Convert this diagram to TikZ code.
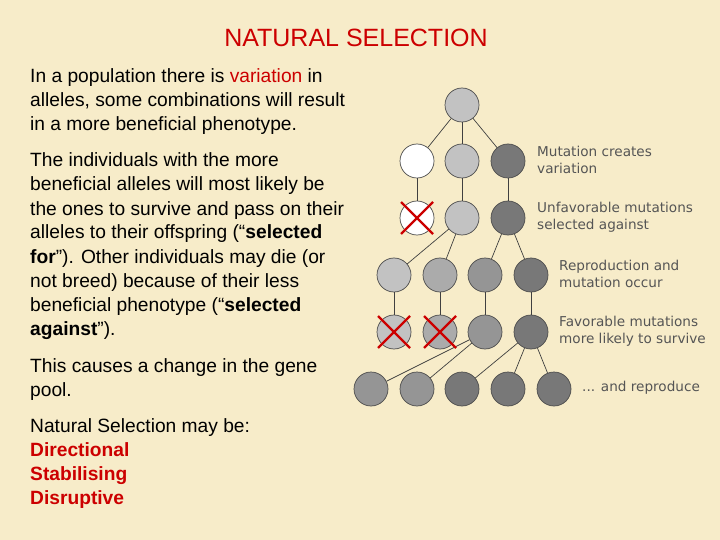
\documentclass[tikz,border=0pt]{standalone}
\usepackage{fontspec}
\usetikzlibrary{calc}
\setmainfont{Liberation Sans}
\newfontfamily\lblfont{DejaVu Sans}
\definecolor{bg}{HTML}{F7ECC9}
\definecolor{tred}{HTML}{CC0000}
\definecolor{cA}{HTML}{C2C2C2}
\definecolor{cB}{HTML}{ABABAB}
\definecolor{cC}{HTML}{959595}
\definecolor{cD}{HTML}{787878}
\definecolor{lbl}{HTML}{555555}
\begin{document}
\begin{tikzpicture}[x=1pt,y=-1pt,
  ind/.style={circle,draw=black!70,line width=0.7pt,minimum size=34pt,inner sep=0pt},
  tx/.style={anchor=base west,inner sep=0pt,font=\fontsize{19.2}{22}\selectfont},
  lb/.style={anchor=west,align=left,inner sep=0pt,text=lbl,font=\lblfont\fontsize{13.6}{17}\selectfont},
  ed/.style={draw=black!75,line width=0.7pt},
  cross/.style={draw=red!80!black,line width=2.2pt}]
\fill[bg] (0,0) rectangle (720,540);
\useasboundingbox (0,0) rectangle (720,540);
\node[anchor=base,inner sep=0pt,text=tred,font=\fontsize{25}{28}\selectfont] (title) at (356,47) {NATURAL SELECTION};
\node[tx] (l1) at (30,83) {In a population there is \textcolor{tred}{variation} in};
\node[tx] (l2) at (30,107) {alleles, some combinations will result};
\node[tx] (l3) at (30,131) {in a more beneficial phenotype.};
\node[tx] (l4) at (30,167) {The individuals with the more};
\node[tx] (l5) at (30,191) {beneficial alleles will most likely be};
\node[tx] (l6) at (30,215) {the ones to survive and pass on their};
\node[tx] (l7) at (30,239) {alleles to their offspring (“\textbf{selected}};
\node[tx] (l8) at (30,263) {\textbf{for}”). Other individuals may die (or};
\node[tx] (l9) at (30,287) {not breed) because of their less};
\node[tx] (l10) at (30,311) {beneficial phenotype (“\textbf{selected}};
\node[tx] (l11) at (30,335) {\textbf{against}”).};
\node[tx] (l12) at (30,372) {This causes a change in the gene};
\node[tx] (l13) at (30,396) {pool.};
\node[tx] (l14) at (30,432) {Natural Selection may be:};
\node[tx,text=tred] (l15) at (30,456) {\textbf{Directional}};
\node[tx,text=tred] (l16) at (30,480) {\textbf{Stabilising}};
\node[tx,text=tred] (l17) at (30,504) {\textbf{Disruptive}};
% tree
\node[ind,fill=cA] (r) at (462,105) {};
\node[ind,fill=white] (a1) at (417,161) {};
\node[ind,fill=cA] (a2) at (462,161) {};
\node[ind,fill=cD] (a3) at (508,161) {};
\node[ind,fill=white] (b1) at (417,218) {};
\node[ind,fill=cA] (b2) at (462,218) {};
\node[ind,fill=cD] (b3) at (508,218) {};
\node[ind,fill=cA] (c1) at (394,275) {};
\node[ind,fill=cB] (c2) at (440,275) {};
\node[ind,fill=cC] (c3) at (485,275) {};
\node[ind,fill=cD] (c4) at (531,275) {};
\node[ind,fill=cA] (d1) at (394,332) {};
\node[ind,fill=cB] (d2) at (440,332) {};
\node[ind,fill=cC] (d3) at (485,332) {};
\node[ind,fill=cD] (d4) at (531,332) {};
\node[ind,fill=cC] (e1) at (371,389) {};
\node[ind,fill=cC] (e2) at (417,389) {};
\node[ind,fill=cD] (e3) at (462,389) {};
\node[ind,fill=cD] (e4) at (508,389) {};
\node[ind,fill=cD] (e5) at (554,389) {};
\foreach \p/\c in {r/a1,r/a2,r/a3,a1/b1,a2/b2,a3/b3,b2/c1,b2/c2,b3/c3,b3/c4,c1/d1,c2/d2,c3/d3,c4/d4,d3/e1,d3/e2,d4/e3,d4/e4,d4/e5}
  \draw[ed] (\p) -- (\c);
\foreach \n in {b1,d1,d2}{
  \draw[cross] ($(\n)+(-16,-16)$) -- ($(\n)+(16,16)$);
  \draw[cross] ($(\n)+(16,-16)$) -- ($(\n)+(-16,16)$);
}
\node[lb] (t1) at (537,160) {Mutation creates\\variation};
\node[lb] (t2) at (537,217) {Unfavorable mutations\\selected against};
\node[lb] (t3) at (559,274) {Reproduction and\\mutation occur};
\node[lb] (t4) at (559,331) {Favorable mutations\\more likely to survive};
\node[lb] (t5) at (582,388) {... and reproduce};
\end{tikzpicture}
\end{document}
